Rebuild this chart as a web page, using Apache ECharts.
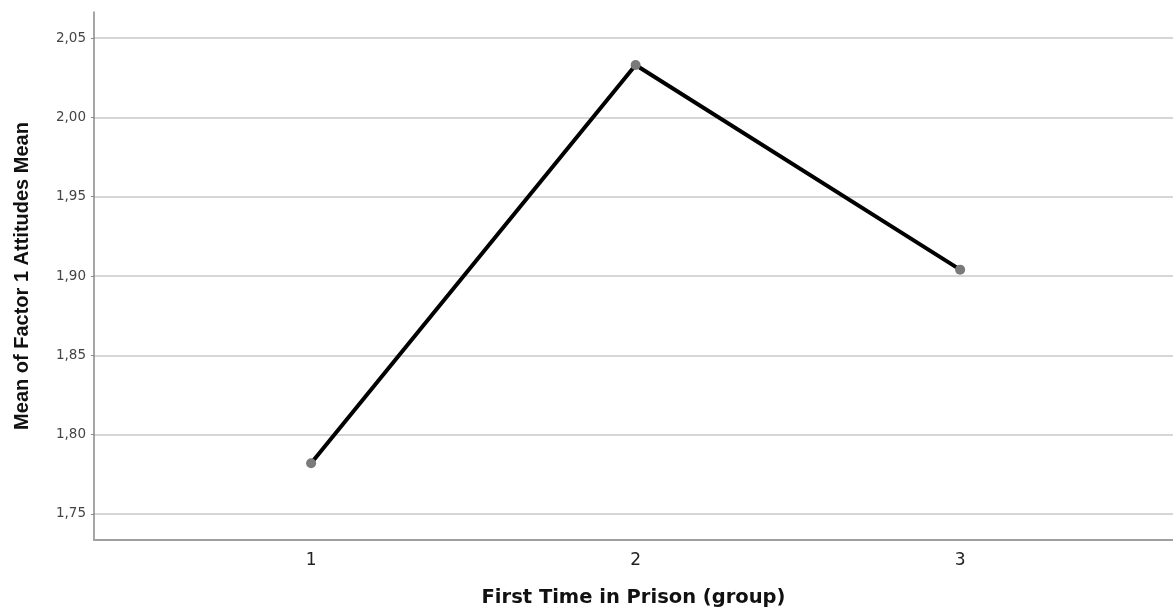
<!DOCTYPE html>
<html>
<head>
<meta charset="utf-8">
<script src="https://cdn.jsdelivr.net/npm/echarts@6/dist/echarts.min.js"></script>
<style>
html,body{margin:0;padding:0;background:#fff;}
#chart{width:1173px;height:607px;}
</style>
</head>
<body>
<div id="chart"></div>
<script>
// Data
var categories = [1, 2, 3];
var meanValues = [1.782, 2.033, 1.904];
var yTickValues = [1.75, 1.80, 1.85, 1.90, 1.95, 2.00, 2.05];
var xTitle = 'First Time in Prison (group)';
var yTitle = 'Mean of Factor 1 Attitudes Mean';

var points = categories.map(function (c, i) { return [c, meanValues[i]]; });

var chart = echarts.init(document.getElementById('chart'), null, {renderer: 'canvas'});
chart.setOption({
  animation: false,
  backgroundColor: '#ffffff',
  grid: {left: 94, right: 0, top: 12, bottom: 67, containLabel: false, outerBoundsMode: 'none'},
  xAxis: {
    type: 'value',
    min: 0.331,
    max: 3.656,
    name: xTitle,
    nameLocation: 'middle',
    nameGap: 48,
    nameTextStyle: {fontFamily: 'DejaVu Sans', fontWeight: 'bold', fontSize: 19.5, color: '#111'},
    axisLine: {show: true, lineStyle: {color: '#a0a0a0', width: 2}},
    axisTick: {show: false, customValues: categories},
    splitLine: {show: false},
    axisLabel: {
      customValues: categories,
      fontFamily: 'DejaVu Sans', fontSize: 17, color: '#222', margin: 12,
      formatter: function (v) { return String(v); }
    }
  },
  yAxis: {
    type: 'value',
    min: 1.7336,
    max: 2.0664,
    name: yTitle,
    nameLocation: 'middle',
    nameGap: 62,
    nameRotate: 90,
    nameTextStyle: {fontFamily: 'Liberation Sans', fontWeight: 'bold', fontSize: 20, color: '#111'},
    axisLine: {show: true, lineStyle: {color: '#888', width: 1.5}},
    axisTick: {show: true, length: 3, customValues: yTickValues, lineStyle: {color: '#888'}},
    splitLine: {show: true, lineStyle: {color: '#c8c8c8', width: 1.5}},
    axisLabel: {
      customValues: yTickValues,
      fontFamily: 'DejaVu Sans', fontSize: 13.5, color: '#444', margin: 8,
      formatter: function (v) { return v.toFixed(2).replace('.', ','); }
    }
  },
  series: [{
    type: 'line',
    data: points,
    lineStyle: {color: '#000', width: 4},
    symbol: 'circle',
    symbolSize: 10,
    itemStyle: {color: '#7a7a7a'},
    z: 3
  }]
});
</script>
</body>
</html>
